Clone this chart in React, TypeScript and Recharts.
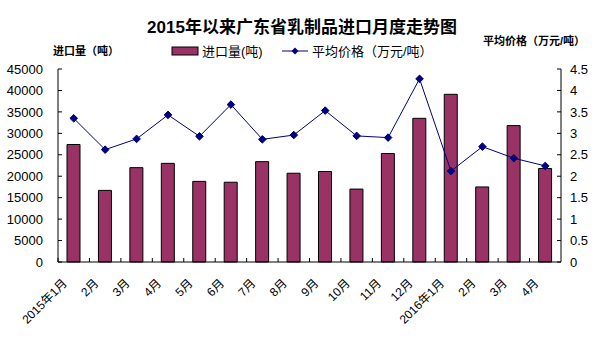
import React from 'react';
import { ComposedChart, Bar, Line, XAxis, YAxis } from 'recharts';

const months = ['2015年1月', '2月', '3月', '4月', '5月', '6月', '7月', '8月', '9月', '10月', '11月', '12月', '2016年1月', '2月', '3月', '4月'];
const importVolume = [27400, 16700, 22000, 23000, 18800, 18600, 23400, 20700, 21100, 17000, 25300, 33500, 39100, 17500, 31800, 21800];
const avgPrice = [3.35, 2.62, 2.87, 3.43, 2.93, 3.67, 2.86, 2.96, 3.53, 2.94, 2.9, 4.27, 2.12, 2.69, 2.42, 2.24];
const leftTicks = [0, 5000, 10000, 15000, 20000, 25000, 30000, 35000, 40000, 45000];
const rightTicks = [0, 0.5, 1, 1.5, 2, 2.5, 3, 3.5, 4, 4.5];

const data = months.map((m, i) => ({ month: m, volume: importVolume[i], price: avgPrice[i] }));

const W = 607;
const H = 342;
const LEFT = 58;
const RIGHT_W = 46;
const TOP = 69;
const BOTTOM_H = 80;
const BAND = (W - LEFT - RIGHT_W) / months.length;

const NUM_FONT = '"Liberation Sans", Arial, "Noto Sans CJK SC", sans-serif';
const CJK_FONT = '"Liberation Sans", "Noto Sans CJK SC", sans-serif';
const BAR_COLOR = '#993366';
const LINE_COLOR = '#000080';

const XTick = (props: any) => {
  const { x, y, payload } = props;
  return (
    <g>
      <line x1={x - BAND / 2} x2={x - BAND / 2} y1={y} y2={y - 4} stroke="#000" />
      <text
        transform={`translate(${x - 6},${y + 22}) rotate(-45)`}
        textAnchor="end"
        fontSize={12}
        fontFamily={CJK_FONT}
        fill="#000"
      >
        {payload.value}
      </text>
    </g>
  );
};

const LeftTick = (props: any) => {
  const { x, y, payload } = props;
  return (
    <g>
      <line x1={x} x2={x + 4} y1={y} y2={y} stroke="#000" />
      <text x={x - 15} y={y} dy="0.36em" textAnchor="end" fontSize={13} fontFamily={NUM_FONT} fill="#000">
        {payload.value}
      </text>
    </g>
  );
};

const RightTick = (props: any) => {
  const { x, y, payload } = props;
  return (
    <g>
      <line x1={x} x2={x - 4} y1={y} y2={y} stroke="#000" />
      <text x={x + 9} y={y} dy="0.36em" textAnchor="start" fontSize={13} fontFamily={NUM_FONT} fill="#000">
        {payload.value}
      </text>
    </g>
  );
};

const Diamond = (props: any) => {
  const { cx, cy } = props;
  if (cx == null || cy == null) return null;
  const s = 3.8;
  return <path d={`M${cx},${cy - s} L${cx + s},${cy} L${cx},${cy + s} L${cx - s},${cy} Z`} fill={LINE_COLOR} stroke={LINE_COLOR} />;
};

export default function App() {
  return (
    <div style={{ position: 'absolute', left: 0, top: 0, width: W, height: H, background: '#fff' }}>
      <ComposedChart
        width={W}
        height={H}
        data={data}
        margin={{ top: TOP, right: 0, bottom: 0, left: 0 }}
      >
        <XAxis
          dataKey="month"
          xAxisId="x"
          height={BOTTOM_H}
          interval={0}
          tickSize={0}
          tickMargin={0}
          tickLine={false}
          axisLine={{ stroke: '#000' }}
          tick={<XTick />}
          allowDuplicatedCategory={true}
        />
        <YAxis
          yAxisId="left"
          orientation="left"
          width={LEFT}
          domain={[0, 45000]}
          ticks={leftTicks}
          interval={0}
          tickSize={0}
          tickMargin={0}
          tickLine={false}
          axisLine={{ stroke: '#000' }}
          tick={<LeftTick />}
        />
        <YAxis
          yAxisId="right"
          orientation="right"
          width={RIGHT_W}
          domain={[0, 4.5]}
          ticks={rightTicks}
          interval={0}
          tickSize={0}
          tickMargin={0}
          tickLine={false}
          axisLine={{ stroke: '#000' }}
          tick={<RightTick />}
        />
        <Bar
          xAxisId="x"
          yAxisId="left"
          dataKey="volume"
          name="进口量(吨)"
          fill={BAR_COLOR}
          stroke="#000"
          strokeWidth={1}
          barSize={13}
          isAnimationActive={false}
        />
        <Line
          xAxisId="x"
          yAxisId="right"
          dataKey="price"
          name="平均价格（万元/吨）"
          type="linear"
          stroke={LINE_COLOR}
          strokeWidth={1}
          dot={<Diamond />}
          activeDot={false}
          isAnimationActive={false}
        />
      </ComposedChart>
      <svg width={W} height={TOP} style={{ position: 'absolute', left: 0, top: 0, pointerEvents: 'none' }}>
        <text x={302} y={27} dy="0.36em" textAnchor="middle" fontSize={17} fontWeight="bold" fontFamily={CJK_FONT} fill="#000">
          2015年以来广东省乳制品进口月度走势图
        </text>
        <text x={53} y={51} dy="0.36em" textAnchor="start" fontSize={11} fontWeight="bold" fontFamily={CJK_FONT} fill="#000">
          进口量（吨）
        </text>
        <text x={483} y={41} dy="0.36em" textAnchor="start" fontSize={11} fontWeight="bold" fontFamily={CJK_FONT} fill="#000">
          平均价格（万元/吨）
        </text>
        <rect x={172} y={47} width={26} height={8} fill={BAR_COLOR} stroke="#000" strokeWidth={1} />
        <text x={202} y={51} dy="0.36em" textAnchor="start" fontSize={13} fontFamily={CJK_FONT} fill="#000">
          进口量(吨)
        </text>
        <line x1={282} x2={308} y1={51} y2={51} stroke={LINE_COLOR} strokeWidth={1} />
        <path d="M295,47.5 L298.5,51 L295,54.5 L291.5,51 Z" fill={LINE_COLOR} />
        <text x={312} y={51} dy="0.36em" textAnchor="start" fontSize={13} fontFamily={CJK_FONT} fill="#000">
          平均价格（万元/吨）
        </text>
      </svg>
    </div>
  );
}
